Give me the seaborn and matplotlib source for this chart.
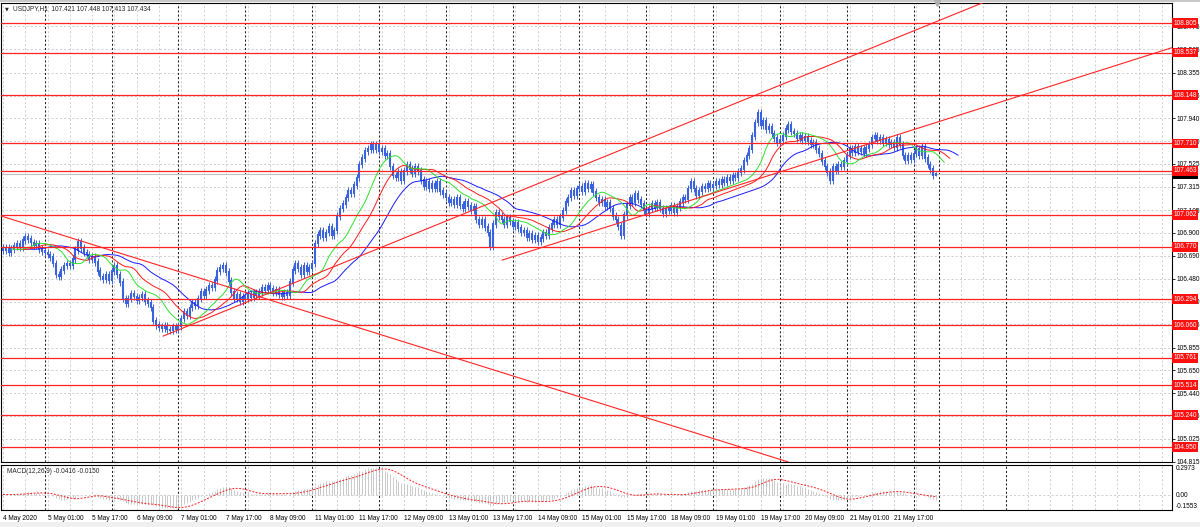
import numpy as np
import pandas as pd
import matplotlib
matplotlib.use("Agg")
import matplotlib.pyplot as plt
import matplotlib.transforms as mtransforms
from matplotlib.patches import Rectangle
import seaborn as sns

# USDJPY H1 closes, one list per trading day (4 May 09:00 ... 22 May 08:00)
close_may04 = [106.74, 106.76, 106.72, 106.75, 106.78, 106.80, 106.77, 106.83, 106.86, 106.84, 106.81, 106.79, 106.80, 106.75, 106.73]
close_may05 = [106.72, 106.70, 106.68, 106.62, 106.52, 106.50, 106.56, 106.60, 106.62, 106.60, 106.66, 106.74,
               106.82, 106.76, 106.72, 106.70, 106.66, 106.68, 106.63, 106.55, 106.50, 106.48, 106.52, 106.47]
close_may06 = [106.55, 106.60, 106.52, 106.45, 106.30, 106.26, 106.30, 106.34, 106.32, 106.29, 106.31, 106.33,
               106.28, 106.26, 106.22, 106.10, 106.06, 106.04, 106.03, 106.05, 106.02, 106.01, 106.04, 106.02]
close_may07 = [106.05, 106.12, 106.18, 106.15, 106.22, 106.26, 106.24, 106.30, 106.36, 106.33, 106.38, 106.42,
               106.40, 106.47, 106.55, 106.58, 106.60, 106.54, 106.46, 106.36, 106.30, 106.33, 106.28, 106.32]
close_may08 = [106.30, 106.34, 106.31, 106.35, 106.33, 106.36, 106.40, 106.38, 106.42, 106.39, 106.36, 106.38,
               106.34, 106.32, 106.35, 106.33, 106.45, 106.56, 106.62, 106.58, 106.52, 106.60, 106.55, 106.58]
close_may11 = [106.62, 106.80, 106.88, 106.92, 106.86, 106.90, 106.95, 106.88, 106.92, 107.05, 107.12, 107.16,
               107.22, 107.28, 107.26, 107.33, 107.40, 107.52, 107.58, 107.64, 107.66, 107.70, 107.66, 107.70]
close_may12 = [107.64, 107.66, 107.60, 107.62, 107.50, 107.42, 107.40, 107.45, 107.38, 107.46, 107.52, 107.48,
               107.44, 107.50, 107.46, 107.38, 107.32, 107.36, 107.30, 107.34, 107.30, 107.36, 107.28, 107.25]
close_may13 = [107.22, 107.18, 107.20, 107.16, 107.22, 107.15, 107.12, 107.18, 107.14, 107.10, 107.13, 107.02,
               106.98, 107.02, 106.95, 106.90, 106.78, 106.98, 107.08, 107.05, 107.02, 106.98, 107.03, 107.00]
close_may14 = [106.96, 106.99, 106.94, 106.90, 106.92, 106.86, 106.89, 106.84, 106.87, 106.82, 106.85, 106.90,
               106.88, 106.94, 106.98, 107.02, 106.98, 107.04, 107.10, 107.18, 107.22, 107.28, 107.24, 107.30]
close_may15 = [107.32, 107.28, 107.34, 107.30, 107.33, 107.27, 107.22, 107.18, 107.20, 107.14, 107.17, 107.12,
               107.05, 107.02, 106.96, 106.88, 107.06, 107.15, 107.22, 107.18, 107.25, 107.20, 107.16, 107.10]
close_may18 = [107.08, 107.12, 107.16, 107.13, 107.17, 107.12, 107.08, 107.12, 107.10, 107.14, 107.09, 107.13,
               107.18, 107.22, 107.20, 107.30, 107.36, 107.30, 107.24, 107.28, 107.32, 107.30, 107.34, 107.31]
close_may19 = [107.33, 107.36, 107.34, 107.38, 107.36, 107.40, 107.38, 107.42, 107.40, 107.45, 107.48, 107.55,
               107.60, 107.66, 107.78, 107.90, 107.99, 107.88, 107.92, 107.84, 107.86, 107.80, 107.76, 107.72]
close_may20 = [107.74, 107.78, 107.84, 107.88, 107.82, 107.80, 107.76, 107.78, 107.74, 107.77, 107.73, 107.70,
               107.72, 107.66, 107.62, 107.55, 107.50, 107.45, 107.38, 107.50, 107.47, 107.52, 107.50, 107.55]
close_may21 = [107.60, 107.66, 107.63, 107.68, 107.64, 107.66, 107.62, 107.67, 107.70, 107.76, 107.78, 107.74,
               107.76, 107.72, 107.74, 107.70, 107.72, 107.68, 107.76, 107.70, 107.60, 107.56, 107.60, 107.57]
close_may22 = [107.62, 107.66, 107.60, 107.68, 107.58, 107.52, 107.48, 107.421, 107.434]

days = [close_may04, close_may05, close_may06, close_may07, close_may08, close_may11, close_may12, close_may13,
        close_may14, close_may15, close_may18, close_may19, close_may20, close_may21, close_may22]

first_open = 106.76
last_open, last_high, last_low, last_close = 107.421, 107.448, 107.413, 107.434

levels = [108.805, 108.537, 108.148, 107.710, 107.463, 107.062, 106.770, 106.294, 106.060,
          105.761, 105.514, 105.240, 104.950]
price_ticks = [108.775, 108.565, 108.355, 108.145, 107.940, 107.730, 107.525, 107.315, 107.105, 106.900,
               106.690, 106.480, 106.270, 106.065, 105.855, 105.650, 105.440, 105.235, 105.025, 104.815]
time_labels = ["4 May 2020", "5 May 01:00", "5 May 17:00", "6 May 09:00", "7 May 01:00", "7 May 17:00",
               "8 May 09:00", "11 May 01:00", "11 May 17:00", "12 May 09:00", "13 May 01:00", "13 May 17:00",
               "14 May 09:00", "15 May 01:00", "15 May 17:00", "18 May 09:00", "19 May 01:00", "19 May 17:00",
               "20 May 09:00", "21 May 01:00", "21 May 17:00"]
# trend lines: (bar, price) anchors
trend_down = [(-1.08, 107.054), (284.4, 104.796)]
trend_up_steep = [(57.45, 105.959), (232.3, 107.759)]
trend_up_flat = [(179.2, 106.650), (419.75, 108.581)]
macd_min, macd_max = -0.1553, 0.2973
macd_now = (-0.0416, -0.0150)

# ---- build bars ----
close = np.concatenate([np.array(d) for d in days])
n = len(close)
bars = np.arange(n)
opn = np.r_[first_open, close[:-1]]
wick = 0.035
high = np.maximum(opn, close) + wick
low = np.minimum(opn, close) - wick
high[-1], low[-1] = last_high, last_low

df = pd.DataFrame({"bar": bars, "open": opn, "high": high, "low": low, "close": close})
median = (df["high"] + df["low"]) / 2
# Alligator: SMMA of median price, shifted forward
alligator = [(13, 8, "#1a1aff"), (8, 5, "#ff1a1a"), (5, 3, "#2ee02e")]

ema12 = df["close"].ewm(span=12, adjust=False).mean()
ema26 = df["close"].ewm(span=26, adjust=False).mean()
df["macd"] = ema12 - ema26
df["signal"] = df["macd"].rolling(9, min_periods=1).mean()

day_len = [len(d) for d in days]
day_starts = np.cumsum([0] + day_len)[1:]
separators = list(day_starts) + [day_starts[-1] + 24]

# ---- figure ----
sns.set_style("white")
plt.rcParams["font.family"] = ["Liberation Sans", "DejaVu Sans"]
fs = 4.7
W, H = 1200, 527
fig = plt.figure(figsize=(W / 100, H / 100), dpi=100)
ax = fig.add_axes([1 / W, 65 / H, 1171 / W, 459 / H])
axm = fig.add_axes([1 / W, 17 / H, 1171 / W, 45 / H], sharex=ax)

xmin, xmax = -0.72, 419.75
ax.set_xlim(xmin, xmax)
ax.set_ylim(104.815, 108.987)
axm.set_ylim(macd_min, macd_max)

grid_kw = dict(color="#c8c8c8", lw=0.6, ls=(0, (2.5, 2.5)), zorder=0)
sep_kw = dict(color="#202020", lw=0.75, ls=(0, (2, 2)), zorder=0.5)
for a in (ax, axm):
    for g in range(0, 424, 8):
        a.axvline(g, **grid_kw)
    for s in separators:
        a.axvline(s, **sep_kw)
    for sp in a.spines.values():
        sp.set_color("black")
        sp.set_linewidth(0.8)
for t in price_ticks:
    ax.axhline(t, **grid_kw)
axm.axhline(0, **grid_kw)

# bid line
ax.axhline(last_close, color="#c0c0c0", lw=0.8, zorder=1)

# price bars
blue = "#3a62dc"
ax.vlines(df["bar"], df["low"], df["high"], color=blue, lw=0.7, zorder=2)
ax.vlines(df["bar"], np.minimum(opn, close) - 0.008, np.maximum(opn, close) + 0.008,
          color=blue, lw=1.5, zorder=2)

# alligator lines
for period, shift, col in alligator:
    line = pd.DataFrame({"bar": df["bar"] + shift, "val": median.ewm(alpha=1 / period, adjust=False).mean()})
    sns.lineplot(data=line, x="bar", y="val", ax=ax, color=col, lw=0.7, legend=False, zorder=3)

# horizontal levels and trend lines
red = "#ff2424"
for lv in levels:
    ax.axhline(lv, color=red, lw=0.9, zorder=4)
ax.axline(trend_down[0], trend_down[1], color=red, lw=0.8, zorder=4)
for (x0, y0), (x1, y1) in (trend_up_steep, trend_up_flat):
    slope = (y1 - y0) / (x1 - x0)
    ax.plot([x0, xmax], [y0, y0 + slope * (xmax - x0)], color=red, lw=0.8, zorder=4)

# right price scale
ax.yaxis.tick_right()
ax.set_yticks(price_ticks)
ax.set_yticklabels([f"{t:.3f}" for t in price_ticks])
ax.tick_params(axis="y", labelsize=fs, length=2, pad=1.5, colors="black", width=0.6)
ax.tick_params(axis="x", bottom=False, labelbottom=False)
ax.set_xlabel("")
ax.set_ylabel("")
trans = mtransforms.blended_transform_factory(ax.transAxes, ax.transData)
ax.text(1.0012, last_close, f"{last_close:.3f}", transform=trans, ha="left", va="center", color="white",
        fontsize=fs, clip_on=False, zorder=6,
        bbox=dict(boxstyle="square,pad=0.22", fc="black", ec="none"))
for lv in levels:
    ax.text(1.0012, lv, f"{lv:.3f}", transform=trans, ha="left", va="center", color="white",
            fontsize=fs, clip_on=False, zorder=7,
            bbox=dict(boxstyle="square,pad=0.22", fc="#ff1010", ec="none"))

# chart shift marker
ax.plot(df["bar"].iloc[-1] + 0.5, 108.987, marker="v", ms=4, color="#b0b0b0", clip_on=False, zorder=8)

# MACD panel
axm.vlines(df["bar"], 0, df["macd"], color="#c0c0c0", lw=0.6, zorder=2)
sns.lineplot(data=df, x="bar", y="signal", ax=axm, color="#ff2020", lw=0.7, ls=(0, (2, 1.5)),
             legend=False, zorder=3)
axm.set_xlabel("")
axm.set_ylabel("")
axm.yaxis.tick_right()
axm.set_yticks([macd_max, 0, macd_min])
axm.set_yticklabels([f"{macd_max:.4f}", "0.00", f"{macd_min:.4f}"])
axm.tick_params(axis="y", labelsize=fs, length=0, pad=3, colors="black")
ylabs = axm.get_yticklabels()
ylabs[0].set_va("top")
ylabs[2].set_va("bottom")

label_bars = list(range(0, 16 * len(time_labels), 16))
axm.set_xticks(label_bars)
axm.set_xticklabels(time_labels, ha="left")
axm.tick_params(axis="x", labelsize=fs, length=2.5, pad=1, width=0.6, colors="black")
axm.set_xlim(xmin, xmax)

# header texts
fig.text(6.5 / W, 1 - 8.5 / H, "▼", fontsize=3.6, ha="center", va="center", family=["DejaVu Sans"])
fig.text(13 / W, 1 - 8.5 / H,
         f"USDJPY,H1  {last_open:.3f} {last_high:.3f} {last_low:.3f} {last_close:.3f}",
         fontsize=fs, ha="left", va="center")
fig.text(7 / W, 1 - 471.5 / H, f"MACD(12,26,9) {macd_now[0]:.4f} {macd_now[1]:.4f}",
         fontsize=fs, ha="left", va="center")

# window chrome strips
fig.patches.append(Rectangle((0, 0), 1, 5 / H, transform=fig.transFigure, fc="#f0f0f0", ec="none", zorder=-1))
fig.patches.append(Rectangle((0, 1 - 2 / H), 1, 2 / H, transform=fig.transFigure, fc="#c8c8c8", ec="none", zorder=-1))

fig.savefig("out.png", dpi=100)
